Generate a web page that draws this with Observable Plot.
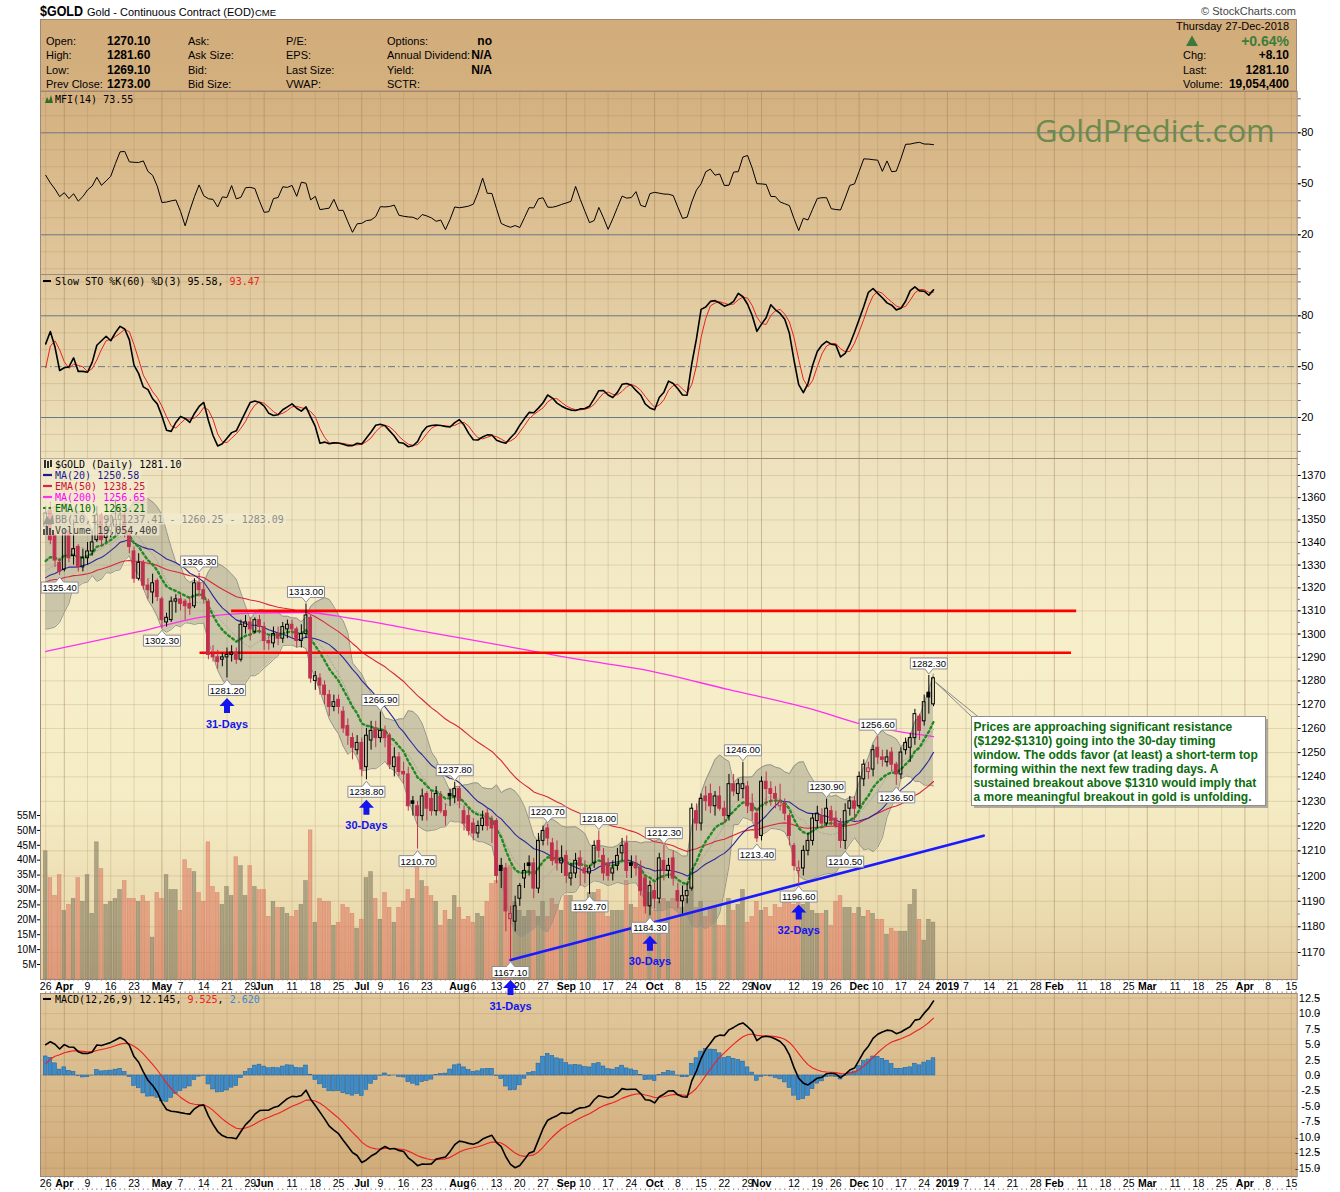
<!DOCTYPE html>
<html><head><meta charset="utf-8"><title>$GOLD</title>
<script src="https://cdn.jsdelivr.net/npm/d3@7"></script>
<script src="https://cdn.jsdelivr.net/npm/@observablehq/plot@0.6"></script>
<style>
html,body{margin:0;padding:0;background:#fff;}
#page{position:relative;width:1340px;height:1192px;overflow:hidden;background:#fff;}
#page > *{position:absolute;left:0;}
</style></head><body><div id="page"></div>
<script>
// ---------------- DATA ----------------
// closes before the first visible day (warm-up for the indicators)
const warmCloses = [1318.6,1318.3,1305.4,1323.4,1319.5,1336.3,1327.6,1321.6,1324.0,1320.5,1326.7,1325.8,1317.5,1313.7,1317.4,1311.9,1332.0,1327.3,1349.2];
const priorWindowHigh = 1366.1, priorWindowLow = 1303.4;
const priorHighUntilIdx = 20, priorLowUntilIdx = 41;
const priorDailyPosFlow = 22000, priorDailyNegFlow = 18000;

const dayOpen = [
1347,1354,1343,1331,1328,1345,1334,1338,1329,1333,
1336,1341,1352,1342,1345,1347,1350,1352,1344,1336,
1324,1331,1321,1318,1323,1315,1305,1306,1314,1315,
1314,1313,1312,1322,1319,1314,1291,1290,1289,1290,
1291,1292,1289,1303,1305,1301,1306,1303,1297,1296,
1300,1298,1302,1304,1302,1297,1300,1307,1280,1281,
1278,1274,1269,1272,1267,1261,1256,1251,1254,1244,
1255,1260,1256,1259,1257,1244,1248,1242,1241,1230,
1228,1224,1233,1231,1226,1232,1226,1233,1232,1235,
1226,1224,1221,1217,1220,1225,1222,1222,1204,1203,
1183,1182,1191,1199,1205,1205,1195,1214,1219,1213,
1210,1205,1208,1199,1201,1207,1203,1201,1205,1214,
1208,1205,1201,1204,1209,1213,1205,1205,1203,1199,
1188,1194,1191,1206,1202,1207,1194,1190,1192,1195,
1226,1221,1232,1233,1228,1232,1227,1224,1237,1233,
1235,1236,1229,1225,1216,1238,1235,1233,1228,1229,
1224,1212,1202,1203,1210,1214,1222,1224,1221,1226,
1223,1221,1214,1227,1230,1228,1239,1242,1243,1252,
1248,1246,1250,1245,1241,1251,1252,1256,1265,1263,
1275,1270.1];
const dayHigh = [
1356,1358,1344,1333,1346,1346,1350,1339,1337,1340,
1345,1356,1353,1350,1352,1359,1356,1354,1346,1338,
1335,1332,1324,1326,1324,1316,1309,1316,1317,1317,
1315,1316,1324,1326.3,1322,1315,1295,1293,1292,1294,
1295,1294,1306,1308,1307,1307,1308,1305,1299,1303,
1303,1305,1306,1306,1303,1304,1313,1308,1284,1283,
1280,1276,1274,1274,1269,1264,1258,1257,1256,1260,
1263,1263,1266.9,1261,1258,1252,1250,1246,1244,1232,
1230,1235,1234,1234,1236,1234,1229,1235,1237.8,1236,
1228,1227,1223,1222,1226,1227,1224,1223,1207,1205,
1188,1192,1197,1205,1208,1207,1217,1220,1220.7,1215,
1214,1212,1210,1205,1209,1210,1206,1204,1214,1218,
1211,1207,1206,1211,1215,1216,1208,1208,1206,1200,
1198,1197,1209,1212.3,1207,1210,1197,1196,1197,1229,
1229,1233,1236,1237,1234,1236,1230,1241,1241,1239,
1246,1238,1233,1227,1240,1242,1238,1236,1237,1231,
1225,1213,1206,1212,1217,1225,1228,1227,1230.9,1228,
1226,1223,1229,1232,1232,1242,1247,1246,1253,1256.6,
1251,1251,1252,1246,1252,1256,1258,1268,1266,1274,
1282.3,1281.6];
const dayLow = [
1343,1339,1329,1325.4,1327,1331,1330,1327,1327,1330,
1334,1340,1338,1340,1342,1343,1345,1342,1335,1322,
1323,1319,1315,1313,1314,1302.3,1303,1305,1309,1310,
1306,1308,1311,1316,1313,1289,1288,1285,1286,1281.2,
1288,1287,1288,1300,1297,1300,1300,1293,1293,1294,
1295,1296,1298,1298,1294,1294,1298,1279,1276,1274,
1270,1265,1267,1266,1258,1253,1247,1249,1240,1238.8,
1251,1252,1254,1252,1243,1240,1240,1237,1226,1224,
1210.7,1222,1222,1224,1224,1225,1220,1228,1229,1227,
1218,1216,1214,1215,1218,1218,1213,1197,1195,1178,
1167.1,1178,1188,1195,1200,1191,1193,1212,1212,1204,
1202,1201,1197,1196,1199,1196,1197,1192.7,1203,1207,
1198,1198,1198,1202,1206,1199,1199,1200,1192,1185,
1184.3,1187,1189,1198,1199,1196,1187,1185,1189,1194,
1218,1218,1226,1225,1224,1226,1221,1222,1232,1230,
1231,1225,1222,1213.4,1214,1228,1228,1227,1226,1222,
1212,1202,1196.6,1200,1208,1212,1219,1219,1220,1220,
1219,1211,1210.5,1224,1222,1227,1236,1239,1240,1245,
1244,1244,1242,1236.5,1239,1249,1246,1253,1255,1261,
1266,1269.1];
const dayClose = [
1353,1341,1332,1327,1344,1333,1337,1329,1333,1336,
1340,1352,1341,1345,1347,1350,1352,1344,1338,1324,
1331,1321,1319,1322,1316,1306,1307,1314,1315,1313,
1312,1311,1322,1319,1315,1291,1290,1288,1290,1291,
1292,1289,1304,1305,1302,1306,1303,1297,1296,1300,
1298,1303,1304,1302,1297,1300,1308,1281,1282,1278,
1274,1269,1271,1269,1260,1257,1252,1254,1243,1257,
1259,1256,1259,1256,1245,1248,1242,1241,1228,1229,
1224,1232,1227,1226,1233,1226,1224,1232,1235,1230,
1221,1218,1217,1220,1223,1220,1219,1200,1202,1186,
1185,1188,1196,1202,1204,1195,1214,1218,1215,1206,
1205,1207,1200,1201,1206,1204,1201,1203,1212,1210,
1201,1200,1203,1208,1212,1202,1204,1203,1194,1188,
1196,1191,1207,1202,1204,1199,1190,1192,1194,1227,
1221,1231,1230,1228,1232,1227,1224,1237,1234,1237,
1237,1228,1226,1215,1238,1235,1233,1231,1230,1225,
1216,1204,1203,1210,1214,1223,1225,1221,1227,1222,
1220,1214,1226,1230,1227,1240,1245,1243.5,1251,1248,
1247,1248,1245,1241,1250,1254,1256,1266,1259,1271,
1273,1281.1];
const dayVolumeM = [
43,34,28,35,23,25,27,34,26,35,
22,46,37,25,26,27,30,33,27,27,
26,28,26,14,29,27,35,30,30,23,
40,37,36,29,26,46,31,29,25,31,
28,41,38,28,38,31,30,30,21,26,
24,24,22,21,23,25,33,50,19,27,
26,26,18,19,25,24,22,17,20,34,
36,27,20,29,24,19,24,26,30,27,
38,33,31,28,26,18,23,20,28,24,
20,21,19,22,21,26,32,33,36,37,
38,26,23,21,23,23,21,26,21,27,
25,23,28,28,25,26,26,29,29,30,
25,21,23,23,23,33,25,24,31,35,
29,23,26,27,26,27,26,24,27,31,
24,26,21,24,24,18,18,27,23,25,
30,19,21,26,23,24,21,25,24,27,
28,25,27,25,26,23,22,22,23,18,
26,28,24,24,22,24,21,23,22,20,
20,15,17,16,16,16,25,30,20,13,
20,19.0544];

// 200-day MA
const ma200Idx = [0,20,34,45,56,65,83,104,115,128,147,165,176,183,191];
const ma200Val = [1292.5,1301,1307.4,1309,1309.3,1307,1300.5,1293,1289,1285,1276.3,1268,1261.6,1258.9,1256.65];

// labelled swing highs / lows
const swingIdx  = [3,33,25,39,56,72,69,88,80,100,108,117,119,130,133,150,153,162,168,172,179,183,190];
const swingKind = ["low","high","low","low","high","high","low","high","low","low","high","low","high","low","high","high","low","low","high","low","high","low","high"];

// cycle-low arrows
const cycleIdx  = [39,69,100,130,162];
const cycleText = ["31-Days","30-Days","31-Days","30-Days","32-Days"];

// drawn resistance zone and trend line
const resistancePrice = [1310,1292];
const resistanceFrom  = [40,33.2];
const resistanceTo    = [221.8,220.7];
const trendIdx   = [100,201.8];
const trendPrice = [1167.1,1216.1];
const calloutIdx   = [191.4,199.4,200.8];
const calloutPrice = [1279.5,1264.6,1264.6];

const holidays = ["2018-03-30","2018-05-28","2018-07-04","2018-09-03","2018-11-22","2018-12-05","2018-12-25"];
const monthNames = ["Jan","Feb","Mar","Apr","May","Jun","Jul","Aug","Sep","Oct","Nov","Dec"];

const priceTicks = d3.range(1170,1371,10);
const oscTicks = [20,50,80];
const macdTicks = d3.range(-15,12.51,2.5);
const volTicks = d3.range(5,56,5);

// texts shown in the legends / header
const legendMfi = "MFI(14) 73.55";
const legendSto = ["Slow STO %K(60) %D(3) ", "95.58, ", "93.47"];
const legendPrice = ["$GOLD (Daily) 1281.10","MA(20) 1250.58","EMA(50) 1238.25","MA(200) 1256.65","EMA(10) 1263.21","BB(10,1.9) 1237.41 - 1260.25 - 1283.09","Volume 19,054,400"];
const legendMacd = ["MACD(12,26,9) 12.145", "9.525", "2.620"];
const annotationLines = [
"Prices are approaching significant resistance",
"($1292-$1310) going into the 30-day timing",
"window. The odds favor (at least) a short-term top",
"forming within the next few trading days. A",
"sustained breakout above $1310 would imply that",
"a more meaningful breakout in gold is unfolding."];

// ---------------- CALENDAR ----------------
const hol = new Set(holidays);
const dates = [];
{ const d = new Date(Date.UTC(2018,2,26));
  while (dates.length < 272) { const dow = d.getUTCDay(); const iso = d.toISOString().slice(0,10);
    if (dow !== 0 && dow !== 6 && !hol.has(iso)) dates.push(new Date(d));
    d.setUTCDate(d.getUTCDate()+1); } }
let ticks = [];
{ let lastMonth = -10;
  for (let k = 0; k < dates.length; k++) {
    const dt = dates[k];
    if (k === 0) { ticks.push({i:0, label:String(dt.getUTCDate()), month:false}); continue; }
    const pv = dates[k-1];
    if (dt.getUTCMonth() !== pv.getUTCMonth()) {
      ticks.push({i:k, label: dt.getUTCMonth()===0 ? String(dt.getUTCFullYear()) : monthNames[dt.getUTCMonth()], month:true});
      lastMonth = k;
    } else if (dt.getUTCDay() <= pv.getUTCDay()) {
      if (k - lastMonth > 2) ticks.push({i:k, label:String(dt.getUTCDate()), month:false});
    }
  } }
{ const mIdx = ticks.filter(t=>t.month).map(t=>t.i);
  ticks = ticks.filter(t => t.month || !mIdx.some(m => m - t.i > 0 && m - t.i <= 2)); }
const weekTicks = ticks.filter(t => !t.month).map(t => t.i);
const monthTicks = ticks.filter(t => t.month).map(t => t.i);
const allDayIdx = d3.range(0, 270);

// ---------------- INDICATORS ----------------
const W = warmCloses.length;
const N = dayClose.length;
const allC = warmCloses.concat(dayClose);
const allH = warmCloses.concat(dayHigh);
const allL = warmCloses.concat(dayLow);
function ema(arr, n){ const a = 2/(n+1); const out = []; let e = arr[0]; for (let k=0;k<arr.length;k++){ e = k===0 ? arr[0] : a*arr[k] + (1-a)*e; out.push(e);} return out; }
function smaAt(arr, n, j){ let s=0,c=0; for (let k=Math.max(0,j-n+1); k<=j; k++){ s+=arr[k]; c++; } return s/c; }
const e10 = ema(allC,10), e50 = ema(allC,50), e12 = ema(allC,12), e26 = ema(allC,26);
const macdAll = e12.map((v,k)=>v - e26[k]);
const sigAll = ema(macdAll,9);
const fastK = allC.map((c,j)=>{ const s = Math.max(0,j-59); let hh=-Infinity, ll=Infinity;
  for (let k=s;k<=j;k++){ hh=Math.max(hh,allH[k]); ll=Math.min(ll,allL[k]); }
  const i = j - W; if (i < priorHighUntilIdx) hh = Math.max(hh, priorWindowHigh); if (i < priorLowUntilIdx) ll = Math.min(ll, priorWindowLow);
  return 100*(c-ll)/(hh-ll); });
const slowK = fastK.map((v,j)=>smaAt(fastK,3,j));
const slowD = slowK.map((v,j)=>smaAt(slowK,3,j));
const tp = dayClose.map((c,i)=>(dayHigh[i]+dayLow[i]+c)/3);
const mfi = dayClose.map((c,i)=>{ let pos=0, neg=0, n=0;
  for (let k=Math.max(1,i-13); k<=i; k++){ const f = tp[k]*dayVolumeM[k]; n++; if (tp[k]>tp[k-1]) pos+=f; else if (tp[k]<tp[k-1]) neg+=f; }
  const missing = 14 - n; pos += missing*priorDailyPosFlow; neg += missing*priorDailyNegFlow;
  return neg===0 ? 100 : 100 - 100/(1+pos/neg); });

const RED = "#c0304d";
const rows = dayClose.map((c,i)=>{ const j = W+i; const o = dayOpen[i];
  const pc = i ? dayClose[i-1] : warmCloses[W-1];
  let s=0; for (let k=j-9;k<=j;k++) s+=allC[k]; const m10 = s/10;
  let v=0; for (let k=j-9;k<=j;k++) v+=(allC[k]-m10)**2; const sd = Math.sqrt(v/10);
  return {i, o, h:dayHigh[i], l:dayLow[i], c, up: c>=pc, filled: c<o,
    lo: Math.min(o,c), hi: Math.max(o,c), x1:i-0.3, x2:i+0.3, vx1:i-0.4, vx2:i+0.4,
    vol: dayVolumeM[i], ma20: smaAt(allC,20,j), ema10: e10[j], ema50: e50[j],
    bbMid: m10, bbUp: m10+1.9*sd, bbLo: m10-1.9*sd,
    macd: macdAll[j], sig: sigAll[j], hist: macdAll[j]-sigAll[j],
    k: slowK[j], d: slowD[j], mfi: mfi[i]}; });
const ma200 = ma200Idx.map((i,k)=>({i, v: ma200Val[k]}));
const swings = swingIdx.map((i,k)=>({i, kind: swingKind[k], p: swingKind[k]==="high" ? dayHigh[i] : dayLow[i]}))
  .map(s => ({...s, label: s.p.toFixed(2)}));
const cycles = cycleIdx.map((i,k)=>({i, p: dayLow[i], text: cycleText[k]}));
const resist = resistancePrice.map((p,k)=>({p, a: resistanceFrom[k], b: resistanceTo[k]}));
const trend = trendIdx.map((i,k)=>({i, p: trendPrice[k]}));
const callout = [{x1:calloutIdx[0], y1:calloutPrice[0], x2:calloutIdx[1], y2:calloutPrice[1]},
                 {x1:calloutIdx[0], y1:calloutPrice[0], x2:calloutIdx[2], y2:calloutPrice[2]}];

// ---------------- LAYOUT ----------------
const page = document.getElementById("page");
const FONT = "'Liberation Sans', Arial, sans-serif";
const MONO = "'DejaVu Sans Mono', monospace";
const X = {domain:[-1.12, 269.25], range:[40, 1296.7], axis:null};
const GRID = "#9c7c52";
function put(el, top, z){ el.style.position="absolute"; el.style.left="0px"; el.style.top=top+"px"; el.style.zIndex=z; page.appendChild(el); }
function mk(height, y, marks){
  return Plot.plot({width:1340, height, marginLeft:40, marginRight:43.3, marginTop:0, marginBottom:0,
    style:{background:"transparent", overflow:"visible", fontFamily:FONT, fontSize:"11px", color:"#000"},
    x:X, y, marks});
}
function gridX(){ return [
  Plot.ruleX(weekTicks, {stroke:GRID, strokeOpacity:0.22}),
  Plot.ruleX(monthTicks, {stroke:GRID, strokeOpacity:0.45})]; }
function bg(top, h, stops){
  const d = document.createElement("div");
  d.style.cssText = `position:absolute;left:40px;top:${top}px;width:1256.7px;height:${h}px;z-index:0;background:linear-gradient(to bottom, ${stops});`;
  page.appendChild(d);
}
bg(19, 960, "#d2ac7b 0px, #d4b07f 72px, #e0c79b 255px, #ede2bd 439px, #f7efca 620px, #f5ecc5 780px, #eadaae 900px, #e0c99d 960px");
bg(993, 183, "#e1c99d 0px, #d1ab7a 183px");

// MFI panel
put(mk(183, {domain:[20,80], range:[143.3,41.3]}, [
  ...gridX(),
  Plot.ruleY(d3.range(0,101,10).filter(v=>v!==20&&v!==80), {stroke:GRID, strokeOpacity:0.22}),
  Plot.ruleY([20,80], {stroke:"#6c7686", strokeWidth:1}),
  Plot.line(rows, {x:"i", y:"mfi", stroke:"#000", strokeWidth:1}),
  Plot.axisY(d3.range(0,101,10), {anchor:"right", tickSize:3, tickFormat:()=>"", stroke:"#555", label:null}),
  Plot.axisY(oscTicks, {anchor:"right", tickSize:3, tickPadding:1, label:null}),
  Plot.frame({stroke:"#a08878"})
]), 91, 1);

// STO panel
put(mk(184, {domain:[20,80], range:[143,41.3]}, [
  ...gridX(),
  Plot.ruleY(d3.range(0,101,10).filter(v=>v!==20&&v!==80&&v!==50), {stroke:GRID, strokeOpacity:0.22}),
  Plot.ruleY([20,80], {stroke:"#6c7686", strokeWidth:1}),
  Plot.ruleY([50], {stroke:"#6c7686", strokeWidth:1, strokeDasharray:"7,3,1.5,3"}),
  Plot.line(rows, {x:"i", y:"d", stroke:"#e8231c", strokeWidth:1}),
  Plot.line(rows, {x:"i", y:"k", stroke:"#000", strokeWidth:1.6}),
  Plot.axisY(d3.range(0,101,10), {anchor:"right", tickSize:3, tickFormat:()=>"", stroke:"#555", label:null}),
  Plot.axisY(oscTicks, {anchor:"right", tickSize:3, tickPadding:1, label:null}),
  Plot.frame({stroke:"#a08878"})
]), 274, 1);

// price panel: grid + axis
const PY = {type:"log", domain:[1170,1370], range:[494,17]};
put(mk(521, PY, [
  ...gridX(),
  Plot.ruleY(priceTicks, {stroke:GRID, strokeOpacity:0.22}),
  Plot.axisY(d3.range(1165,1376,5), {anchor:"right", tickSize:2, tickFormat:()=>"", stroke:"#666", label:null}),
  Plot.axisY(priceTicks, {anchor:"right", tickSize:3, tickPadding:1, tickFormat:d=>String(d), label:null}),
  Plot.frame({stroke:"#a08878"})
]), 458, 1);

// volume overlay
put(mk(521, {domain:[5,55], range:[506,357]}, [
  Plot.rectY(rows, {filter:d=>!d.up, x1:"vx1", x2:"vx2", y:"vol", fill:"#e0735c", fillOpacity:0.55, stroke:"#c9634e", strokeOpacity:0.5, strokeWidth:0.6}),
  Plot.rectY(rows, {filter:d=>d.up, x1:"vx1", x2:"vx2", y:"vol", fill:"#7a735a", fillOpacity:0.55, stroke:"#6a6450", strokeOpacity:0.5, strokeWidth:0.6}),
  Plot.axisY(volTicks, {anchor:"left", tickSize:3, tickPadding:1, fontSize:10, tickFormat:d=>d+"M", label:null})
]), 458, 1);

// price panel: bands, averages, candles, annotations
const highTag = {draw(ctx){ ctx.moveTo(-18.5,-17.5); ctx.lineTo(18.5,-17.5); ctx.lineTo(18.5,-6.5); ctx.lineTo(4,-6.5); ctx.lineTo(0,-1.5); ctx.lineTo(-4,-6.5); ctx.lineTo(-18.5,-6.5); ctx.closePath(); }};
const lowTag  = {draw(ctx){ ctx.moveTo(-18.5,17.5); ctx.lineTo(18.5,17.5); ctx.lineTo(18.5,6.5); ctx.lineTo(4,6.5); ctx.lineTo(0,1.5); ctx.lineTo(-4,6.5); ctx.lineTo(-18.5,6.5); ctx.closePath(); }};
const arrowUp = {draw(ctx){ ctx.moveTo(0,0); ctx.lineTo(7.5,8); ctx.lineTo(3,8); ctx.lineTo(3,15); ctx.lineTo(-3,15); ctx.lineTo(-3,8); ctx.lineTo(-7.5,8); ctx.closePath(); }};
const BLUE = "#1414ee";
put(mk(521, {...PY, axis:null}, [
  Plot.areaY(rows, {x:"i", y1:"bbLo", y2:"bbUp", fill:"#85857a", fillOpacity:0.38}),
  Plot.line(rows, {x:"i", y:"bbUp", stroke:"#95958a", strokeWidth:1}),
  Plot.line(rows, {x:"i", y:"bbLo", stroke:"#95958a", strokeWidth:1}),
  Plot.line(rows, {x:"i", y:"bbMid", stroke:"#a8a8a0", strokeWidth:1, strokeDasharray:"1.5,2"}),
  Plot.line(ma200, {x:"i", y:"v", curve:"monotone-x", stroke:"#ff2ef2", strokeWidth:1.3}),
  Plot.line(rows, {x:"i", y:"ema50", stroke:"#d8263c", strokeWidth:1.1}),
  Plot.line(rows, {x:"i", y:"ma20", stroke:"#28289a", strokeWidth:1.1}),
  Plot.line(rows, {x:"i", y:"ema10", stroke:"#238a23", strokeWidth:2.4, strokeDasharray:"2,3"}),
  Plot.ruleY(resist, {y:"p", x1:"a", x2:"b", stroke:"#ff0000", strokeWidth:2.6}),
  Plot.line(trend, {x:"i", y:"p", stroke:"#1a1aff", strokeWidth:2.6}),
  // wicks
  Plot.ruleX(rows, {filter:d=>d.up, x:"i", y1:"l", y2:"lo", stroke:"#000", strokeWidth:1}),
  Plot.ruleX(rows, {filter:d=>d.up, x:"i", y1:"hi", y2:"h", stroke:"#000", strokeWidth:1}),
  Plot.ruleX(rows, {filter:d=>!d.up, x:"i", y1:"l", y2:"lo", stroke:RED, strokeWidth:1}),
  Plot.ruleX(rows, {filter:d=>!d.up, x:"i", y1:"hi", y2:"h", stroke:RED, strokeWidth:1}),
  // bodies
  Plot.rect(rows, {filter:d=>d.up && d.filled, x1:"x1", x2:"x2", y1:"lo", y2:"hi", fill:"#000", stroke:"#000", strokeWidth:1}),
  Plot.rect(rows, {filter:d=>d.up && !d.filled, x1:"x1", x2:"x2", y1:"lo", y2:"hi", fill:"none", stroke:"#000", strokeWidth:1}),
  Plot.rect(rows, {filter:d=>!d.up && d.filled, x1:"x1", x2:"x2", y1:"lo", y2:"hi", fill:RED, stroke:RED, strokeWidth:1}),
  Plot.rect(rows, {filter:d=>!d.up && !d.filled, x1:"x1", x2:"x2", y1:"lo", y2:"hi", fill:"none", stroke:RED, strokeWidth:1}),
  // swing labels
  Plot.dot(swings, {filter:d=>d.kind==="high", x:"i", y:"p", symbol:highTag, fill:"#fff", stroke:"#8d8d8d", strokeWidth:1}),
  Plot.dot(swings, {filter:d=>d.kind==="low", x:"i", y:"p", symbol:lowTag, fill:"#fff", stroke:"#8d8d8d", strokeWidth:1}),
  Plot.text(swings, {filter:d=>d.kind==="high", x:"i", y:"p", text:"label", dy:-12, fontSize:9.5, fill:"#000"}),
  Plot.text(swings, {filter:d=>d.kind==="low", x:"i", y:"p", text:"label", dy:12.5, fontSize:9.5, fill:"#000"}),
  // cycle arrows
  Plot.dot(cycles, {x:"i", y:"p", symbol:arrowUp, fill:BLUE, stroke:"none", dy:20}),
  Plot.text(cycles, {x:"i", y:"p", text:"text", dy:46, fill:BLUE, fontWeight:"bold", fontSize:11}),
  // callout pointer
  Plot.link(callout, {x1:"x1", y1:"y1", x2:"x2", y2:"y2", stroke:"#8a8a8a", strokeWidth:1})
]), 458, 3);

// date strips
function strip(top){
  put(mk(14, {domain:[0,14], range:[0,14], axis:null}, [
    Plot.ruleX(allDayIdx, {y1:0, y2:1.6, stroke:"#8a8a8a", strokeWidth:1}),
    Plot.ruleX(allDayIdx, {y1:12.4, y2:14, stroke:"#8a8a8a", strokeWidth:1}),
    Plot.text(ticks.filter(t=>!t.month), {x:"i", text:"label", frameAnchor:"middle", fontSize:10.5, fill:"#000"}),
    Plot.text(ticks.filter(t=>t.month), {x:"i", text:"label", frameAnchor:"middle", fontSize:10.5, fontWeight:"bold", fill:"#000"})
  ]), top, 1);
}
strip(979); strip(1176);

// MACD panel
put(mk(183, {domain:[-15,12.5], range:[174.7,4.7]}, [
  ...gridX(),
  Plot.ruleY(macdTicks, {stroke:GRID, strokeOpacity:0.22}),
  Plot.rectY(rows, {x1:"vx1", x2:"vx2", y:"hist", fill:"#3c8ccc", stroke:"#22669e", strokeWidth:0.6}),
  Plot.line(rows, {x:"i", y:"sig", stroke:"#ee2020", strokeWidth:1.1}),
  Plot.line(rows, {x:"i", y:"macd", stroke:"#000", strokeWidth:1.6}),
  Plot.axisY(macdTicks, {anchor:"right", tickSize:3, tickPadding:1, textAnchor:"end", dx:19, tickFormat:d=>d.toFixed(1), label:null}),
  Plot.frame({stroke:"#a08878"})
]), 993, 1);

// ---------------- TEXT OVERLAY ----------------
const ov = d3.create("svg").attr("width",1340).attr("height",1192)
  .style("position","absolute").style("left","0px").style("top","0px").style("z-index",5).style("pointer-events","none");
function txt(x,y,s,o={}){ const e = ov.append("text").attr("x",x).attr("y",y).text(s)
  .attr("font-family", o.ff||FONT).attr("font-size", o.fs||11).attr("fill", o.fill||"#000");
  if (o.fw) e.attr("font-weight",o.fw); if (o.anchor) e.attr("text-anchor",o.anchor); return e; }
// header
txt(40,16,"$GOLD",{fs:15,fw:"bold"}).attr("textLength",43).attr("lengthAdjust","spacingAndGlyphs");
txt(87,15.5,"Gold - Continuous Contract (EOD)",{fs:11});
txt(255,15.5,"CME",{fs:9.5});
txt(1296,15,"\u00A9 StockCharts.com",{fs:11,anchor:"end",fill:"#444"});
ov.append("rect").attr("x",40.5).attr("y",19.5).attr("width",1256).attr("height",71.5).attr("fill","none").attr("stroke","#a08878");
const infoY = [44.7,59,74,88.3];
[["Open:","1270.10"],["High:","1281.60"],["Low:","1269.10"],["Prev Close:","1273.00"]].forEach((r,k)=>{ txt(46,infoY[k],r[0]); txt(107,infoY[k],r[1],{fw:"bold",fs:12}); });
["Ask:","Ask Size:","Bid:","Bid Size:"].forEach((s,k)=>txt(188,infoY[k],s));
["P/E:","EPS:","Last Size:","VWAP:"].forEach((s,k)=>txt(286,infoY[k],s));
["Options:","Annual Dividend:","Yield:","SCTR:"].forEach((s,k)=>txt(387,infoY[k],s));
[["no",0],["N/A",1],["N/A",2]].forEach(([s,k])=>txt(492,infoY[k],s,{fw:"bold",fs:12,anchor:"end"}));
txt(1176,30,"Thursday",{fs:11}); txt(1289,30,"27-Dec-2018",{fs:11,anchor:"end"});
ov.append("path").attr("d","M1186,46L1198,46L1192,35.5Z").attr("fill","#3a7a3a");
txt(1289,46,"+0.64%",{fs:14,fw:"bold",anchor:"end",fill:"#3b7d3b"});
txt(1183,58.7,"Chg:"); txt(1289,58.7,"+8.10",{fw:"bold",fs:12,anchor:"end"});
txt(1183,73.5,"Last:"); txt(1289,73.5,"1281.10",{fw:"bold",fs:12,anchor:"end"});
txt(1183,87.8,"Volume:"); txt(1289,87.8,"19,054,400",{fw:"bold",fs:12,anchor:"end"});
// watermark
txt(1035,142,"GoldPredict.com",{ff:"'Open Sans',sans-serif",fs:31,fill:"#6b8a4b"});
// MFI legend
ov.append("path").attr("d","M45,103L47,97L49,101L51,95L53,103Z").attr("fill","#2e6b2e");
txt(55,102.5,legendMfi,{ff:MONO,fs:10});
// STO legend
ov.append("line").attr("x1",43).attr("x2",51).attr("y1",281).attr("y2",281).attr("stroke","#000").attr("stroke-width",2);
{ const e = txt(55,284.5,legendSto[0],{ff:MONO,fs:10});
  e.append("tspan").text(legendSto[1]); e.append("tspan").attr("fill","#e8231c").text(legendSto[2]); }
// price legend
const legendStyle = [
  {y:464, fill:"#000", icon:"candle"},
  {y:475, fill:"#1c1c8c", icon:"line", col:"#1c1c8c"},
  {y:486, fill:"#cc1133", icon:"line", col:"#d8263c"},
  {y:497, fill:"#ff00ff", icon:"line", col:"#ff2ef2"},
  {y:508, fill:"#006400", icon:"dash", col:"#238a23"},
  {y:519, fill:"#8c8c8c", icon:"mount"},
  {y:530, fill:"#404040", icon:"bars"}];
legendStyle.forEach((r,k)=>{
  const text = legendPrice[k];
  ov.append("rect").attr("x",42).attr("y",r.y-5.5).attr("width",12+text.length*6.02+3).attr("height",11).attr("fill","#f3ecd0").attr("fill-opacity",0.72);
  if (r.icon==="line") ov.append("line").attr("x1",43).attr("x2",52).attr("y1",r.y).attr("y2",r.y).attr("stroke",r.col).attr("stroke-width",2.2);
  if (r.icon==="dash") ov.append("line").attr("x1",43).attr("x2",53).attr("y1",r.y).attr("y2",r.y).attr("stroke",r.col).attr("stroke-width",2.2).attr("stroke-dasharray","2.5,3");
  if (r.icon==="candle") { ov.append("path").attr("d",`M45,${r.y-4}V${r.y+4}M48,${r.y-3}V${r.y+4}M51,${r.y-4}V${r.y+3}`).attr("stroke","#000").attr("stroke-width",1.6); }
  if (r.icon==="mount") ov.append("path").attr("d",`M43,${r.y+5}L47,${r.y-3}L50,${r.y+1}L53,${r.y-5}L54,${r.y+5}Z`).attr("fill","#9c9c94");
  if (r.icon==="bars") ov.append("path").attr("d",`M44,${r.y+5}V${r.y-1}M47,${r.y+5}V${r.y-4}M50,${r.y+5}V${r.y-2}M53,${r.y+5}V${r.y}`).attr("stroke","#505050").attr("stroke-width",2);
  txt(55,r.y+3.6,text,{ff:MONO,fs:10,fill:r.fill});
});
// MACD legend
ov.append("line").attr("x1",43).attr("x2",51).attr("y1",999).attr("y2",999).attr("stroke","#000").attr("stroke-width",2);
{ const e = txt(55,1002.5,legendMacd[0],{ff:MONO,fs:10});
  e.append("tspan").text(", "); e.append("tspan").attr("fill","#ee2020").text(legendMacd[1]);
  e.append("tspan").text(", "); e.append("tspan").attr("fill","#3a8ad0").text(legendMacd[2]); }
// annotation box
ov.append("rect").attr("x",974).attr("y",719).attr("width",294).attr("height",89).attr("fill","#6b6b6b").attr("fill-opacity",0.5);
ov.append("rect").attr("x",971.5).attr("y",716.5).attr("width",294).attr("height",89).attr("fill","#fff").attr("stroke","#8f8f8f");
annotationLines.forEach((s,k)=>txt(973.5,730.8+k*14,s,{fs:12,fw:"bold",fill:"#0c6c0c"}));
page.appendChild(ov.node());
</script></body></html>
